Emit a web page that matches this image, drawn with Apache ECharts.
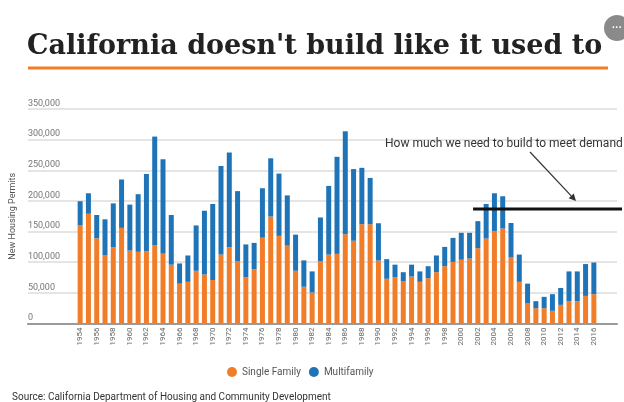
<!DOCTYPE html>
<html>
<head>
<meta charset="utf-8">
<script src="https://cdn.jsdelivr.net/npm/echarts@6/dist/echarts.min.js"></script>
<style>
  html, body { margin: 0; padding: 0; background: #fff; }
  #chart { width: 624px; height: 402px; }
</style>
</head>
<body>
<div id="chart"></div>
<script>
const years = ['1954','1955','1956','1957','1958','1959','1960','1961','1962','1963','1964','1965','1966','1967','1968','1969','1970',
  '1971','1972','1973','1974','1975','1976','1977','1978','1979','1980','1981','1982','1983','1984','1985','1986','1987','1988','1989','1990',
  '1991','1992','1993','1994','1995','1996','1997','1998','1999','2000','2001','2002','2003','2004','2005','2006','2007','2008','2009','2010',
  '2011','2012','2013','2014','2015','2016'];

const singleFamily = [160000,179000,139000,111000,124500,156000,119000,117000,118000,128000,114000,96000,65000,68000,86000,80000,71000,
  112500,124500,102000,75500,88600,140000,174500,143000,127000,86000,60000,50500,101600,112500,113600,145700,135000,162000,162000,102700,
  73000,75500,68500,76600,68000,74000,83700,93500,100500,104000,106000,123000,138600,151000,155000,107600,68000,32600,25000,25000,
  20700,30400,36400,36400,45000,47800];

const multifamily = [39500,33500,38000,59000,71500,79000,75000,94000,126000,177000,154000,81000,33000,43000,74000,104000,124000,
  144500,154500,114000,53500,42900,80700,95100,101600,82000,59000,43000,34500,71400,112000,158400,167900,117000,92000,75500,60900,
  32000,20500,15200,19400,17000,19500,27300,31500,39200,44000,42000,44000,56400,61500,52600,56400,44500,32400,11400,18500,
  27100,27600,48600,48600,52000,51700];

const yTicks = [0, 50000, 100000, 150000, 200000, 250000, 300000, 350000];
const demandLevel = 187000;
const demandStartYear = '2001';
const titleText = "California doesn't build like it used to";
const annotationText = 'How much we need to build to meet demand';
const sourceText = 'Source: California Department of Housing and Community Development';
const seriesNames = ['Single Family', 'Multifamily'];
const colors = ['#f27d28', '#1f74b8'];

const chart = echarts.init(document.getElementById('chart'), null, { renderer: 'canvas' });

const option = {
  animation: false,
  backgroundColor: '#ffffff',
  title: {
    text: titleText,
    left: 22,
    top: 28,
    textStyle: { fontFamily: 'DejaVu Serif', fontWeight: 'bold', fontSize: 27, color: '#222222' }
  },
  legend: {
    data: seriesNames,
    left: 222,
    top: 362,
    icon: 'circle',
    itemWidth: 10,
    itemHeight: 10,
    itemGap: 8,
    itemStyle: { borderWidth: 0 },
    textStyle: { fontFamily: 'Roboto', fontSize: 10, color: '#555555' }
  },
  grid: [
    { left: 25, right: 7, top: 109, bottom: 78.5 },
    { left: 76, right: 26, top: 109, bottom: 78.5 }
  ],
  xAxis: [
    {
      type: 'value', gridIndex: 0, min: 0, max: 1,
      axisLabel: { show: false }, axisTick: { show: false }, splitLine: { show: false },
      axisLine: { show: true, lineStyle: { color: '#9a9a9a', width: 2 } }
    },
    {
      type: 'category', gridIndex: 1, data: years,
      axisLine: { show: false }, axisTick: { show: false },
      axisLabel: { interval: 1, rotate: 90, fontSize: 8, color: '#666666', margin: 4, fontFamily: 'Roboto' }
    }
  ],
  yAxis: [
    {
      type: 'value', gridIndex: 0, min: yTicks[0], max: yTicks[yTicks.length - 1], interval: yTicks[1] - yTicks[0],
      axisLine: { show: false }, axisTick: { show: false },
      axisLabel: {
        inside: true, margin: 0, align: 'left', verticalAlign: 'bottom', padding: [0, 0, 1, 0],
        fontSize: 9, color: '#777777', fontFamily: 'Roboto',
        formatter: v => v.toLocaleString('en-US')
      },
      splitLine: { show: true, lineStyle: { color: '#dddddd', width: 1.5 } },
      name: 'New Housing Permits',
      nameLocation: 'middle',
      nameGap: 9,
      nameTextStyle: { fontSize: 9, color: '#555555', fontFamily: 'Roboto' }
    },
    {
      type: 'value', gridIndex: 1, min: yTicks[0], max: yTicks[yTicks.length - 1], interval: yTicks[1] - yTicks[0],
      show: false, splitLine: { show: false }
    }
  ],
  series: [
    {
      name: seriesNames[0], type: 'bar', stack: 'permits', xAxisIndex: 1, yAxisIndex: 1,
      data: singleFamily, barWidth: 5, itemStyle: { color: colors[0] }
    },
    {
      name: seriesNames[1], type: 'bar', stack: 'permits', xAxisIndex: 1, yAxisIndex: 1,
      data: multifamily, barWidth: 5, itemStyle: { color: colors[1] }
    }
  ]
};

chart.setOption(option);

const yDemand = chart.convertToPixel({ yAxisIndex: 1 }, demandLevel);
const xStart = chart.convertToPixel({ xAxisIndex: 1 }, demandStartYear) + 3.5;
const arrowFrom = [530, 152];
const arrowTo = [576, 201];
const ang = Math.atan2(arrowTo[1] - arrowFrom[1], arrowTo[0] - arrowFrom[0]);
const ah = 7, aw = 3.5;
const bx = arrowTo[0] - ah * Math.cos(ang), by = arrowTo[1] - ah * Math.sin(ang);
const head = [
  arrowTo,
  [bx + aw * Math.sin(ang), by - aw * Math.cos(ang)],
  [bx - aw * Math.sin(ang), by + aw * Math.cos(ang)]
];

chart.setOption({
  graphic: [
    { type: 'rect', shape: { x: 28, y: 66.5, width: 580, height: 3 }, style: { fill: '#f27d28' }, z: 10 },
    { type: 'circle', shape: { cx: 617, cy: 28, r: 13 }, style: { fill: '#8a8a8a' }, z: 10 },
    { type: 'text', style: { x: 617, y: 28, text: '···', fill: '#ffffff', fontSize: 10, fontWeight: 'bold', align: 'center', verticalAlign: 'middle' }, z: 11 },
    { type: 'line', shape: { x1: xStart, y1: yDemand, x2: 622, y2: yDemand }, style: { stroke: '#111111', lineWidth: 3 }, z: 20 },
    { type: 'line', shape: { x1: arrowFrom[0], y1: arrowFrom[1], x2: bx, y2: by }, style: { stroke: '#333333', lineWidth: 1.2 }, z: 20 },
    { type: 'polygon', shape: { points: head }, style: { fill: '#333333' }, z: 20 },
    { type: 'text', style: { x: 385, y: 144, text: annotationText, fill: '#333333', fontSize: 12, fontFamily: 'Roboto', verticalAlign: 'middle' }, z: 20 },
    { type: 'text', style: { x: 12, y: 397, text: sourceText, fill: '#333333', fontSize: 10, fontFamily: 'Roboto', verticalAlign: 'middle' }, z: 20 }
  ]
});
</script>
</body>
</html>
